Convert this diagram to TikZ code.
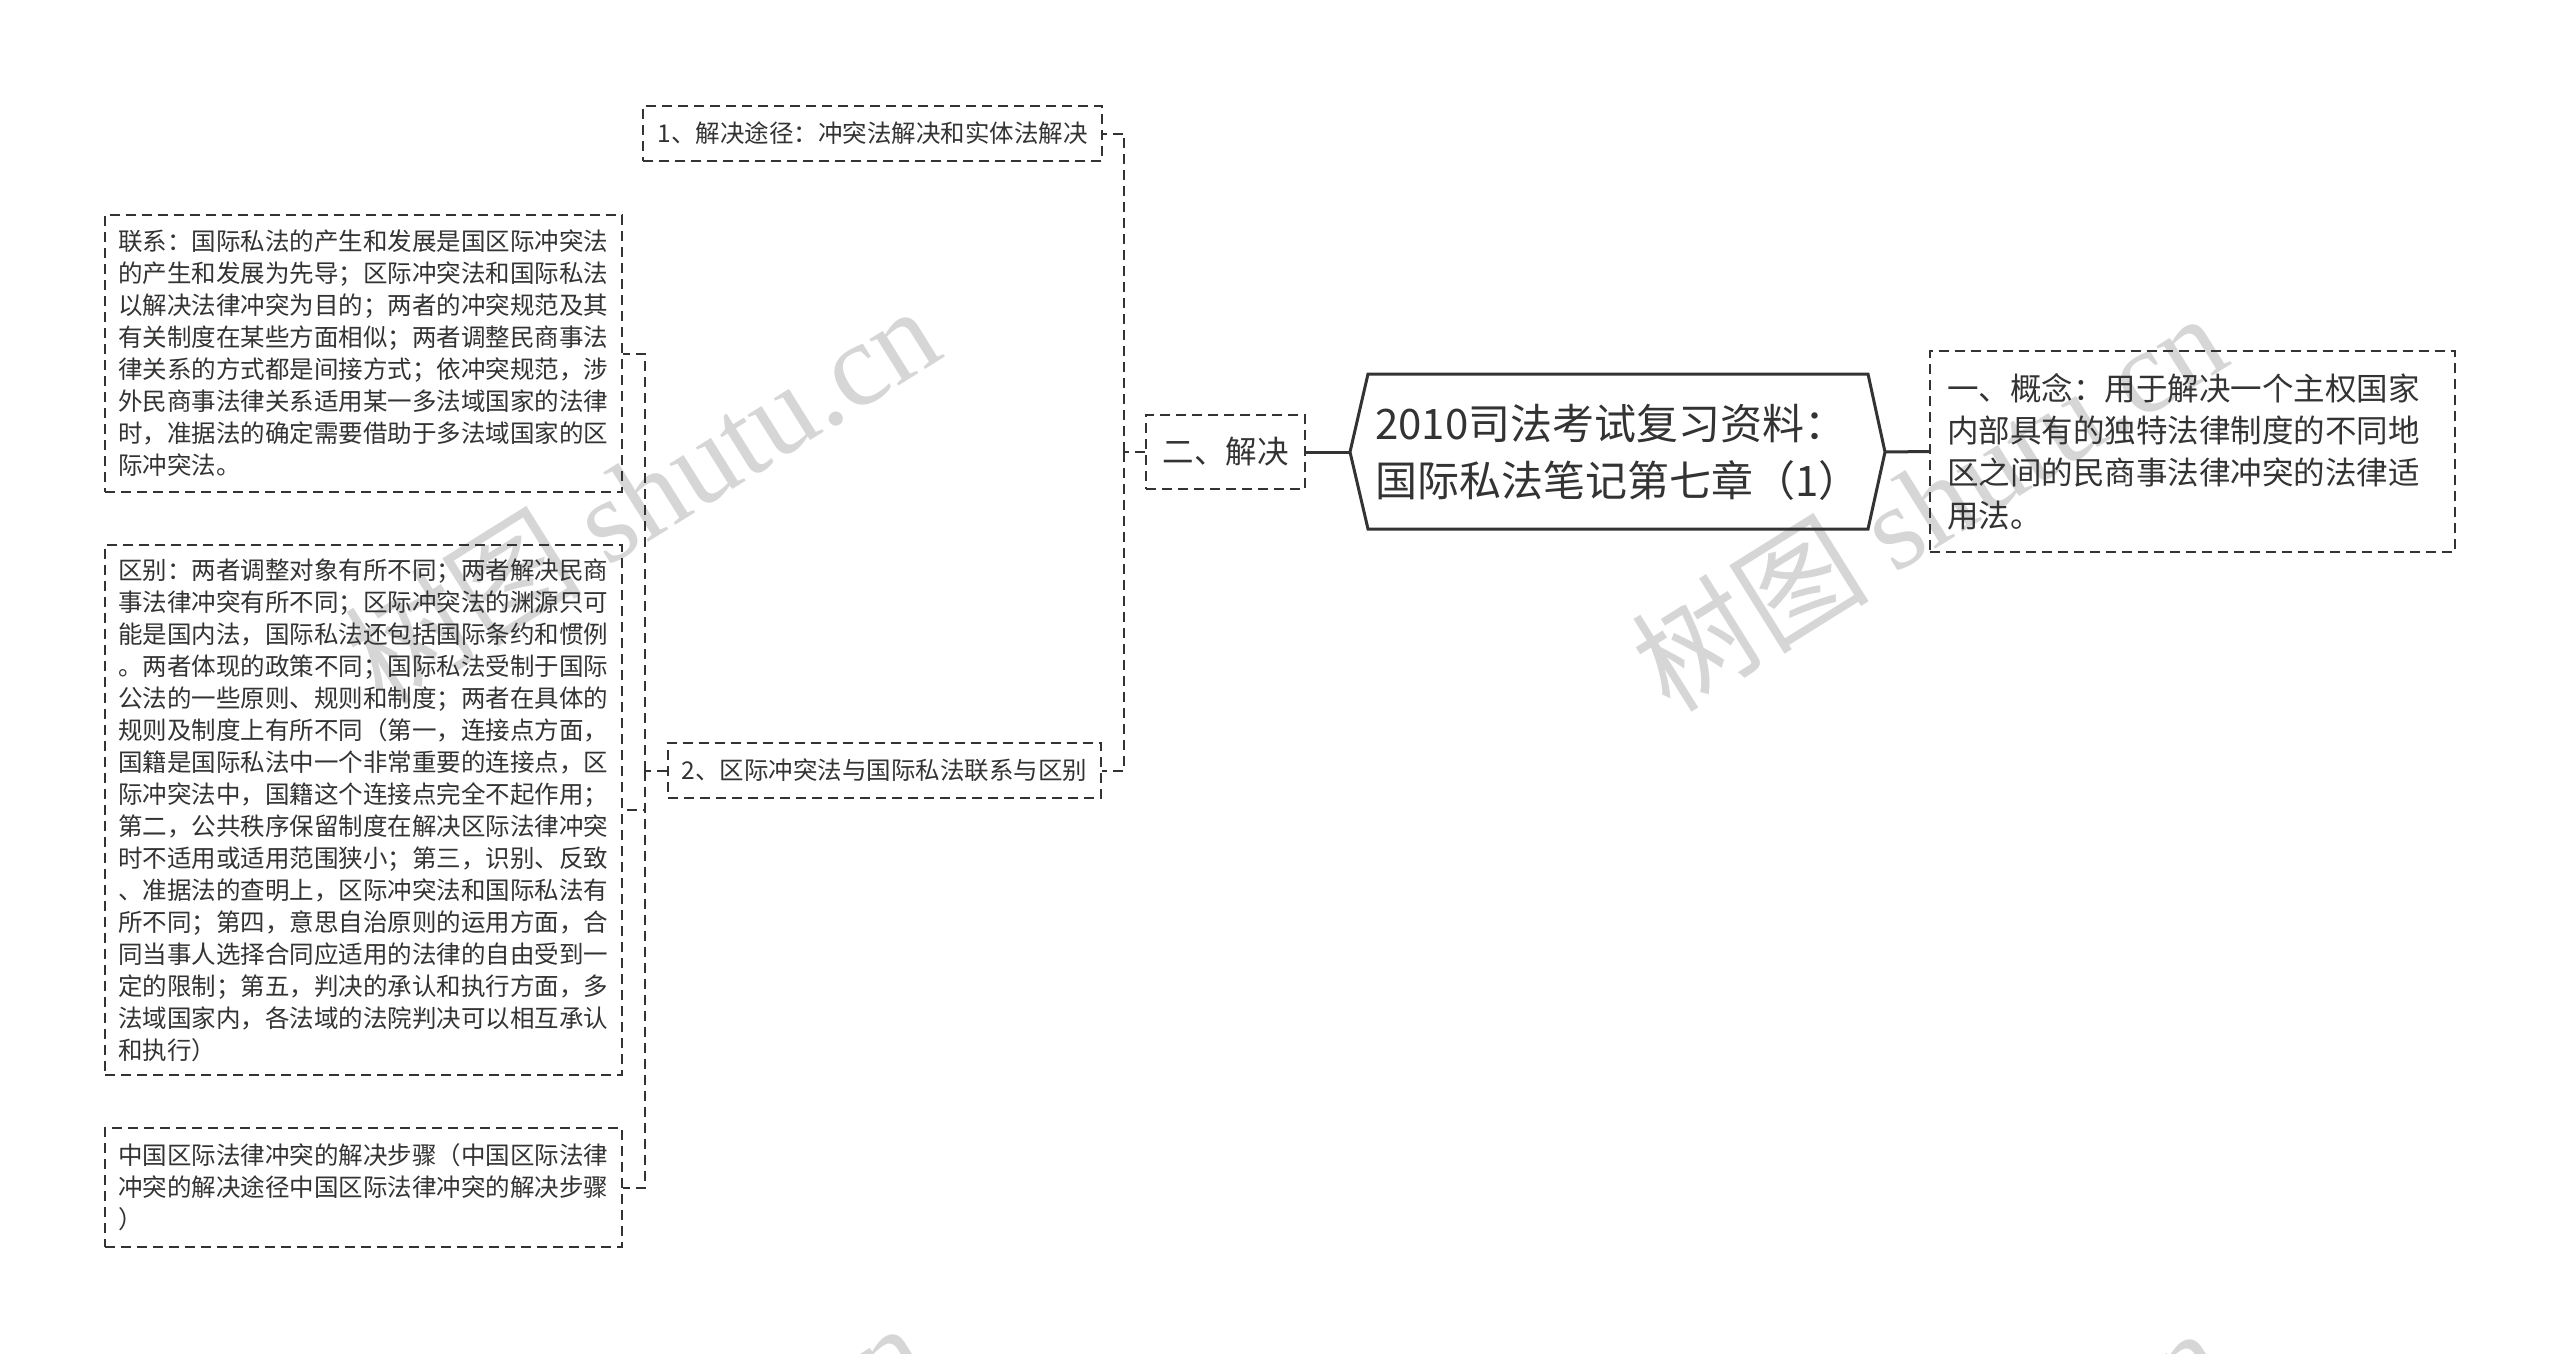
\documentclass[tikz,border=0pt]{standalone}
\usepackage{fontspec}
\setmainfont{Noto Sans CJK SC}
\newfontfamily\wmlatin{Liberation Serif}
\usetikzlibrary{calc}
\definecolor{ink}{HTML}{333333}
\definecolor{wmgray}{HTML}{D6D6D6}
\begin{document}
\begin{tikzpicture}[x=1pt,y=-1pt,
  dbox/.style={draw=ink, line width=2pt, dash pattern=on 10pt off 6pt, text=ink, align=left, inner sep=0pt, anchor=center},
  leftbox/.style={dbox, smalltxt, inner xsep=13pt, text width=491pt, minimum width=517pt},
  smalltxt/.style={font=\fontsize{24.5}{32}\selectfont},
  midtxt/.style={font=\fontsize{31.5}{42.3}\selectfont},
  conn/.style={draw=ink, line width=2pt, dash pattern=on 10pt off 6pt},
  solidconn/.style={draw=ink, line width=3pt},
  wmark/.style={text=wmgray, rotate=32, anchor=base west, inner sep=0pt, font=\fontsize{119}{125}\selectfont}
]
\fill[white] (0,0) rectangle (2560,1353);
\useasboundingbox (0,0) rectangle (2560,1353);

% watermarks
\begin{scope}
\clip (0,0) rectangle (2560,1353);
\node[wmark] (wmA) at (383,708) {树图 {\wmlatin shutu.cn}};
\node[wmark] (wmB) at (1670,715) {树图 {\wmlatin shutu.cn}};
\node[wmark] (wmC) at (370,1725) {树图 {\wmlatin shutu.cn}};
\node[wmark] (wmD) at (1667,1730) {树图 {\wmlatin shutu.cn}};
\end{scope}

% root
\coordinate (rootL) at (1350,452);
\coordinate (rootR) at (1885,452);
\draw[draw=ink, line width=3pt, line join=miter] (rootL) -- (1368,374) -- (1868,374) -- (rootR) -- (1868,529) -- (1368,529) -- cycle;
\node[text=ink, align=left, inner sep=0pt, font=\fontsize{42}{57}\selectfont] (root) at (1618,452) {2010司法考试复习资料：\\国际私法笔记第七章（1）};

% children
\node[dbox, midtxt, inner xsep=17pt, text width=491pt, minimum width=525pt, minimum height=201pt] (gn) at (2192.5,451.5) {一、概念：用于解决一个主权国家\\内部具有的独特法律制度的不同地\\区之间的民商事法律冲突的法律适\\用法。};
\node[dbox, midtxt, minimum width=159pt, minimum height=74pt] (jie) at (1225.5,452) {二、解决};
\node[dbox, smalltxt, minimum width=459pt, minimum height=55pt] (c1) at (872.5,133.5) {1、解决途径：冲突法解决和实体法解决};
\node[dbox, smalltxt, minimum width=433pt, minimum height=55pt] (c2) at (884.5,770.5) {2、区际冲突法与国际私法联系与区别};

\node[leftbox, minimum height=277pt] (lx) at (363.5,353.5) {联系：国际私法的产生和发展是国区际冲突法\\的产生和发展为先导；区际冲突法和国际私法\\以解决法律冲突为目的；两者的冲突规范及其\\有关制度在某些方面相似；两者调整民商事法\\律关系的方式都是间接方式；依冲突规范，涉\\外民商事法律关系适用某一多法域国家的法律\\时，准据法的确定需要借助于多法域国家的区\\际冲突法。};

\node[leftbox, minimum height=530pt] (qb) at (363.5,810) {区别：两者调整对象有所不同；两者解决民商\\事法律冲突有所不同；区际冲突法的渊源只可\\能是国内法，国际私法还包括国际条约和惯例\\。两者体现的政策不同；国际私法受制于国际\\公法的一些原则、规则和制度；两者在具体的\\规则及制度上有所不同（第一，连接点方面，\\国籍是国际私法中一个非常重要的连接点，区\\际冲突法中，国籍这个连接点完全不起作用；\\第二，公共秩序保留制度在解决区际法律冲突\\时不适用或适用范围狭小；第三，识别、反致\\、准据法的查明上，区际冲突法和国际私法有\\所不同；第四，意思自治原则的运用方面，合\\同当事人选择合同应适用的法律的自由受到一\\定的限制；第五，判决的承认和执行方面，多\\法域国家内，各法域的法院判决可以相互承认\\和执行）};

\node[leftbox, minimum height=119pt] (zg) at (363.5,1187.5) {中国区际法律冲突的解决步骤（中国区际法律\\冲突的解决途径中国区际法律冲突的解决步骤\\）};

% connectors
\coordinate (sp1) at (1124,452);
\coordinate (sp2) at (645,770.5);
\draw[solidconn] (rootL) -- (jie.east);
\draw[solidconn] (rootR) -- (gn.west);
\draw[conn] (jie.west) -- (sp1);
\draw[conn] (sp1) |- (c1.east);
\draw[conn] (sp1) |- (c2.east);
\draw[conn] (c2.west) -- (sp2);
\draw[conn] (sp2) |- (lx.east);
\draw[conn] (sp2) |- (qb.east);
\draw[conn] (sp2) |- (zg.east);
\end{tikzpicture}
\end{document}
